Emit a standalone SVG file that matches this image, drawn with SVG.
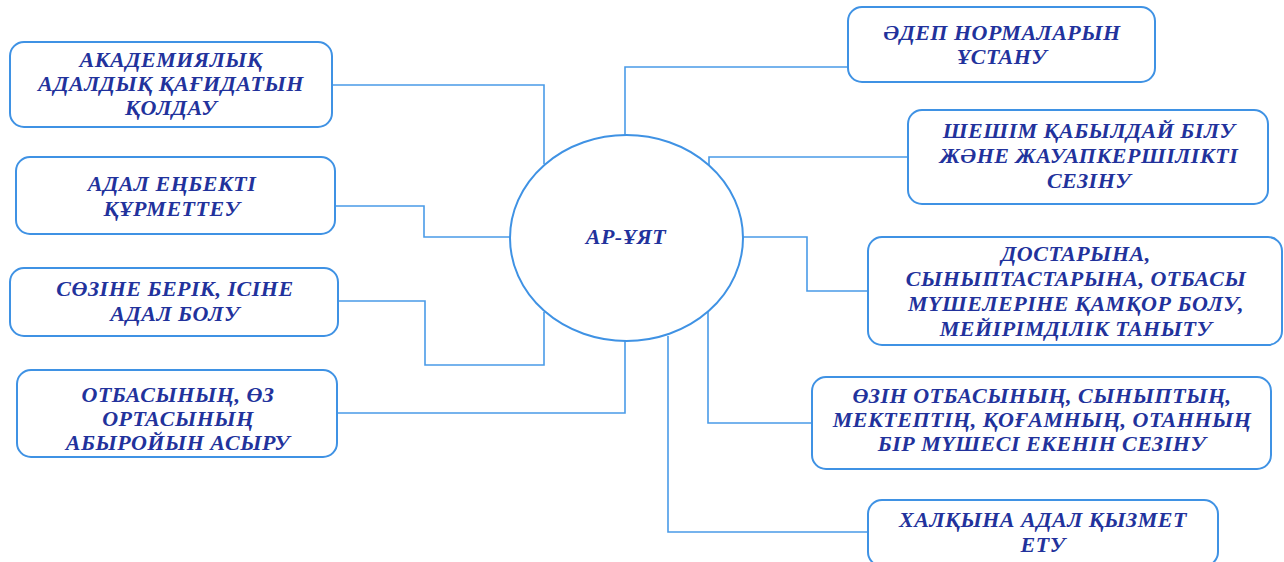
<svg xmlns="http://www.w3.org/2000/svg" width="1284" height="562" viewBox="0 0 1284 562">
<style>
.box{fill:#fff;stroke:#3f92e4;stroke-width:2}
.ell{fill:#fff;stroke:#3f92e4;stroke-width:2}
.con{fill:none;stroke:#4a9be8;stroke-width:1.6}
</style>
<rect width="1284" height="562" fill="#fff"/>
<g id="connectors">
<polyline class="con" points="332,85 544,85 544,164"/>
<polyline class="con" points="335,206 424,206 424,237 510,237"/>
<polyline class="con" points="338,301 425,301 425,365 544,365 544,312"/>
<polyline class="con" points="337,413 625,413 625,341"/>
<polyline class="con" points="848,67 625,67 625,135"/>
<polyline class="con" points="908,157 709,157 709,165"/>
<polyline class="con" points="743,237 807,237 807,291 868,291"/>
<polyline class="con" points="708,311 708,423 812,423"/>
<polyline class="con" points="668,336 668,532 868,532"/>
</g>
<g font-family="Liberation Serif, Times New Roman, serif" font-weight="bold" font-style="italic" font-size="22" letter-spacing="0.5" fill="#22329c" text-anchor="middle">
<g id="center">
<ellipse class="ell" cx="626.5" cy="238" rx="116.5" ry="103"/>
<text x="626" y="244">АР-ҰЯТ</text>
</g>
<g id="n1">
<rect class="box" x="10" y="42" width="322" height="85" rx="14"/>
<text x="171" y="67">АКАДЕМИЯЛЫҚ</text>
<text x="171" y="91">АДАЛДЫҚ ҚАҒИДАТЫН</text>
<text x="171" y="115">ҚОЛДАУ</text>
</g>
<g id="n2">
<rect class="box" x="16" y="157" width="319" height="77" rx="14"/>
<text x="172" y="191">АДАЛ ЕҢБЕКТІ</text>
<text x="172" y="216">ҚҰРМЕТТЕУ</text>
</g>
<g id="n3">
<rect class="box" x="10" y="268" width="328" height="68" rx="14"/>
<text x="175" y="296">СӨЗІНЕ БЕРІК, ІСІНЕ</text>
<text x="175" y="321">АДАЛ БОЛУ</text>
</g>
<g id="n4">
<rect class="box" x="17" y="370" width="320" height="87" rx="14"/>
<text x="178" y="402">ОТБАСЫНЫҢ, ӨЗ</text>
<text x="178" y="426">ОРТАСЫНЫҢ</text>
<text x="178" y="450">АБЫРОЙЫН АСЫРУ</text>
</g>
<g id="n5">
<rect class="box" x="848" y="7" width="307" height="75" rx="14"/>
<text x="1002" y="40">ӘДЕП НОРМАЛАРЫН</text>
<text x="1002" y="64">ҰСТАНУ</text>
</g>
<g id="n6">
<rect class="box" x="908" y="110" width="360" height="94" rx="14"/>
<text x="1089" y="138">ШЕШІМ ҚАБЫЛДАЙ БІЛУ</text>
<text x="1089" y="163">ЖӘНЕ ЖАУАПКЕРШІЛІКТІ</text>
<text x="1089" y="188">СЕЗІНУ</text>
</g>
<g id="n7">
<rect class="box" x="868" y="237" width="414" height="108" rx="14"/>
<text x="1076" y="261">ДОСТАРЫНА,</text>
<text x="1076" y="286">СЫНЫПТАСТАРЫНА, ОТБАСЫ</text>
<text x="1076" y="311">МҮШЕЛЕРІНЕ ҚАМҚОР БОЛУ,</text>
<text x="1076" y="336">МЕЙІРІМДІЛІК ТАНЫТУ</text>
</g>
<g id="n8">
<rect class="box" x="812" y="377" width="459" height="92" rx="14"/>
<text x="1042" y="403">ӨЗІН ОТБАСЫНЫҢ, СЫНЫПТЫҢ,</text>
<text x="1042" y="427">МЕКТЕПТІҢ, ҚОҒАМНЫҢ, ОТАННЫҢ</text>
<text x="1042" y="451">БІР МҮШЕСІ ЕКЕНІН СЕЗІНУ</text>
</g>
<g id="n9">
<rect class="box" x="868" y="500" width="350" height="66" rx="14"/>
<text x="1043" y="527">ХАЛҚЫНА АДАЛ ҚЫЗМЕТ</text>
<text x="1043" y="552">ЕТУ</text>
</g>
</g>
</svg>
